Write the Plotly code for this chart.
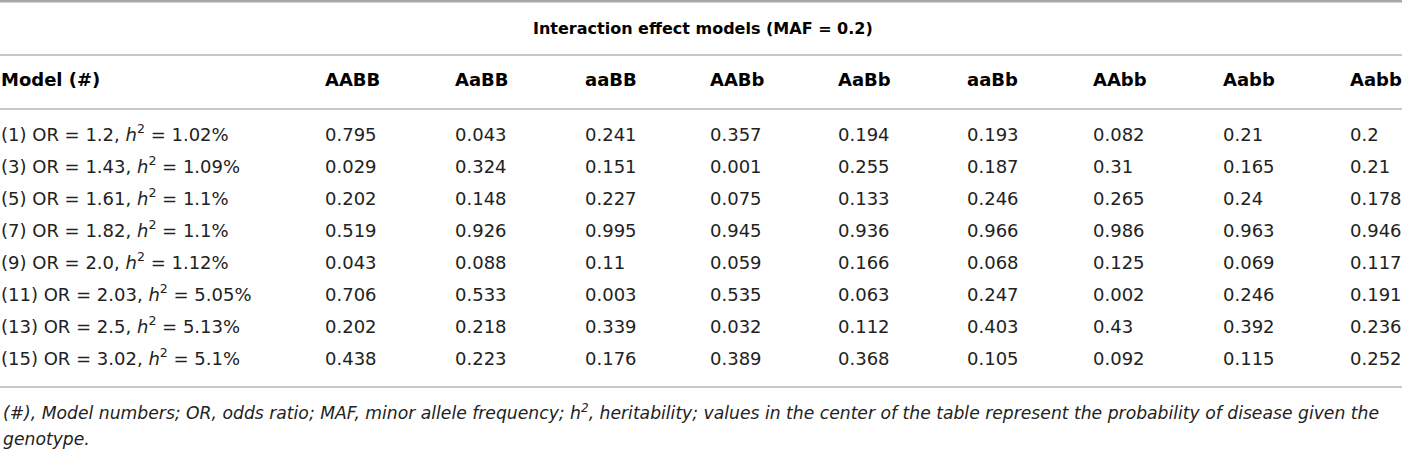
import plotly.graph_objects as go

# Table content
genotypes = ["AABB", "AaBB", "aaBB", "AABb", "AaBb", "aaBb", "AAbb", "Aabb", "Aabb"]
model_ids = [1, 3, 5, 7, 9, 11, 13, 15]
odds_ratio = [1.2, 1.43, 1.61, 1.82, 2.0, 2.03, 2.5, 3.02]
heritability = [1.02, 1.09, 1.1, 1.1, 1.12, 5.05, 5.13, 5.1]

# probability of disease, one list per model row
p_model1 = [0.795, 0.043, 0.241, 0.357, 0.194, 0.193, 0.082, 0.21, 0.2]
p_model3 = [0.029, 0.324, 0.151, 0.001, 0.255, 0.187, 0.31, 0.165, 0.21]
p_model5 = [0.202, 0.148, 0.227, 0.075, 0.133, 0.246, 0.265, 0.24, 0.178]
p_model7 = [0.519, 0.926, 0.995, 0.945, 0.936, 0.966, 0.986, 0.963, 0.946]
p_model9 = [0.043, 0.088, 0.11, 0.059, 0.166, 0.068, 0.125, 0.069, 0.117]
p_model11 = [0.706, 0.533, 0.003, 0.535, 0.063, 0.247, 0.002, 0.246, 0.191]
p_model13 = [0.202, 0.218, 0.339, 0.032, 0.112, 0.403, 0.43, 0.392, 0.236]
p_model15 = [0.438, 0.223, 0.176, 0.389, 0.368, 0.105, 0.092, 0.115, 0.252]
probs = [p_model1, p_model3, p_model5, p_model7, p_model9, p_model11, p_model13, p_model15]

title = "Interaction effect models (MAF = 0.2)"
footnote_1 = ("<i>(#), Model numbers; OR, odds ratio; MAF, minor allele frequency; h<sup>2</sup>, heritability; "
              "values in the center of the table represent the probability of disease given the</i>")
footnote_2 = "<i>genotype.</i>"

# layout (axis units = pixels)
W, H = 1402, 456
col_x = [1, 325, 455, 585, 710, 838, 967, 1093, 1223, 1350]
header_y = 81
row_y0, row_step = 136, 32

body_font = dict(family="DejaVu Sans, Liberation Sans, sans-serif", size=18, color="#222222")
bold_font = dict(family="DejaVu Sans, Liberation Sans, sans-serif", size=18, color="#000000")

fig = go.Figure()

row_ys = [row_y0 + i * row_step for i in range(len(model_ids))]

# model column
labels = ["(%d) OR = %s, <i>h</i><sup>2</sup> = %s%%" % (m, o, h)
          for m, o, h in zip(model_ids, odds_ratio, heritability)]
fig.add_trace(go.Scatter(x=[col_x[0]] * len(labels), y=row_ys, mode="text", text=labels,
                         textposition="middle right", textfont=body_font, hoverinfo="skip"))

# value columns
for j, g in enumerate(genotypes):
    vals = [str(r[j]) for r in probs]
    fig.add_trace(go.Scatter(x=[col_x[j + 1]] * len(vals), y=row_ys, mode="text", text=vals,
                             textposition="middle right", textfont=body_font, hoverinfo="skip"))

# header row
fig.add_trace(go.Scatter(x=col_x, y=[header_y] * len(col_x), mode="text",
                         text=["<b>Model (#)</b>"] + ["<b>%s</b>" % g for g in genotypes],
                         textposition="middle right", textfont=bold_font, hoverinfo="skip"))

fig.add_annotation(x=703, y=28, xref="x", yref="y", text="<b>%s</b>" % title, showarrow=False,
                   font=dict(family="DejaVu Sans, sans-serif", size=16, color="#000000"),
                   xanchor="center", yanchor="middle")
fig.add_annotation(x=1, y=412, xref="x", yref="y", text=footnote_1, showarrow=False,
                   font=dict(family="DejaVu Sans, sans-serif", size=17.2, color="#222222"),
                   xanchor="left", yanchor="middle")
fig.add_annotation(x=1, y=439, xref="x", yref="y", text=footnote_2, showarrow=False,
                   font=dict(family="DejaVu Sans, sans-serif", size=17.2, color="#222222"),
                   xanchor="left", yanchor="middle")

# rules
fig.add_shape(type="line", x0=0, x1=W, y0=1, y1=1, xref="x", yref="y", line=dict(color="#a8a8a8", width=3))
for yy in [55, 109, 387]:
    fig.add_shape(type="line", x0=0, x1=W, y0=yy, y1=yy, xref="x", yref="y",
                  line=dict(color="#b4b4b4", width=1.5))

fig.update_layout(
    width=W, height=H,
    margin=dict(l=0, r=0, t=0, b=0),
    paper_bgcolor="white", plot_bgcolor="white",
    showlegend=False,
    xaxis=dict(range=[0, W], visible=False, fixedrange=True),
    yaxis=dict(range=[H, 0], visible=False, fixedrange=True),
)

# drop the default page margin so the figure sits at the window corner
fig.write_html("out.html", config={"displayModeBar": False},
               post_script="document.body.style.margin='0';")
